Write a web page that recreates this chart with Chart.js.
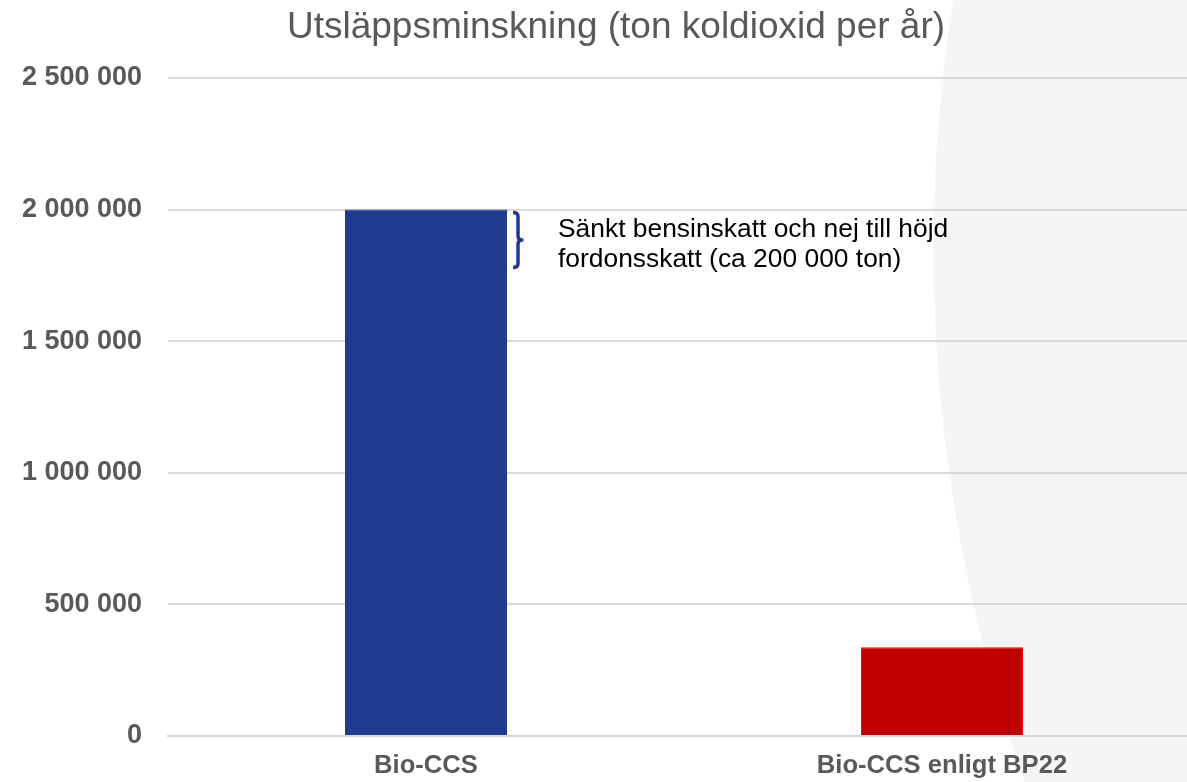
<!DOCTYPE html>
<html>
<head>
<meta charset="utf-8">
<script src="https://cdn.jsdelivr.net/npm/chart.js@4"></script>
<style>
    html, body { margin: 0; padding: 0; overflow: hidden; background: #ffffff; }
    #wrap {
        width: 1200px; height: 782px; position: relative;
        /* light grey disc in the slide background, right side */
        background: radial-gradient(circle 1598px at 2531px 250px, #f5f5f5 1597px, #ffffff 1598px);
    }
</style>
</head>
<body>
<div id="wrap"><canvas id="myChart"></canvas></div>
<script>
//================================data========================================
const categories = ['Bio-CCS', 'Bio-CCS enligt BP22'];
const reduction = [2000000, 337000];
const barColors = ['#203A8F', '#C00000'];
const barBorders = ['#203A8F', '#FF0000'];
const yTicks = [0, 500000, 1000000, 1500000, 2000000, 2500000];
const titleText = 'Utsläppsminskning (ton koldioxid per år)';
const noteLines = ['Sänkt bensinskatt och nej till höjd', 'fordonsskatt (ca 200 000 ton)'];
const noteFrom = 2000000;   // bracket spans this...
const noteTo = 1780000;     // ...down to this

const font = "'Liberation Sans', Arial, sans-serif";
const grey = '#595959';

function spaced(v) {
    return String(v).replace(/\B(?=(\d{3})+(?!\d))/g, ' ');
}

//================================chart========================================
var chart;

// title drawn by hand so it can sit a bit right of centre like the original
const titlePlugin = {
    id: 'slideTitle',
    afterDraw(c) {
        const ctx = c.ctx;
        ctx.save();
        ctx.fillStyle = grey;
        ctx.font = '37px ' + font;
        ctx.textAlign = 'center';
        ctx.textBaseline = 'alphabetic';
        ctx.fillText(titleText, 616, 38);
        ctx.restore();
    }
};

// bracket + text next to the first bar
const notePlugin = {
    id: 'note',
    afterDatasetsDraw(c) {
        const ctx = c.ctx;
        const y = c.scales.y;
        const bar = c.getDatasetMeta(0).data[0];
        let x0 = bar.x + bar.width / 2 + 6;
        let top = y.getPixelForValue(noteFrom) + 3;
        let bot = y.getPixelForValue(noteTo);
        let mid = (top + bot) / 2;
        let xv = x0 + 5;

        ctx.save();
        ctx.strokeStyle = '#203A8F';
        ctx.lineWidth = 3.5;
        ctx.lineJoin = 'round';
        ctx.beginPath();
        ctx.moveTo(x0, top);
        ctx.quadraticCurveTo(xv, top, xv, top + 4);
        ctx.lineTo(xv, mid - 4);
        ctx.quadraticCurveTo(xv, mid, xv + 4, mid);
        ctx.quadraticCurveTo(xv, mid, xv, mid + 4);
        ctx.lineTo(xv, bot - 4);
        ctx.quadraticCurveTo(xv, bot, x0, bot);
        ctx.stroke();

        ctx.fillStyle = '#000000';
        ctx.font = '26.4px ' + font;
        ctx.textBaseline = 'alphabetic';
        ctx.textAlign = 'left';
        let tx = bar.x + bar.width / 2 + 51;
        let ty = y.getPixelForValue(noteFrom) + 27;
        for (let i = 0; i < noteLines.length; i++) {
            ctx.fillText(noteLines[i], tx, ty + i * 30);
        }
        ctx.restore();
    }
};

function showchart() {
    const ctx = document.getElementById('myChart');

    chart = new Chart(ctx, {
        type: 'bar',
        data: {
            labels: categories,
            datasets: [{
                data: reduction,
                backgroundColor: barColors,
                borderColor: barBorders,
                borderWidth: 1,
                barPercentage: 0.314,
                categoryPercentage: 1
            }]
        },
        options: {
            responsive: true,
            maintainAspectRatio: false,
            animation: false,
            layout: { padding: { left: 0, right: 0, top: 78, bottom: 0 } },
            plugins: {
                legend: { display: false },
                tooltip: { enabled: false },
                title: { display: false }
            },
            scales: {
                x: {
                    afterFit: (s) => { s.height = 46; },
                    grid: { display: false, drawTicks: false },
                    border: { display: true, color: '#d9d9d9', width: 2 },
                    ticks: {
                        color: grey,
                        padding: 14.6,
                        font: { family: font, size: 25.6, weight: 'bold' }
                    }
                },
                y: {
                    min: 0,
                    max: 2500000,
                    afterBuildTicks: (s) => { s.ticks = yTicks.map(v => ({ value: v })); },
                    afterFit: (s) => { s.width = 168; },
                    grid: { color: '#d9d9d9', lineWidth: 2, drawTicks: false },
                    border: { display: false },
                    ticks: {
                        color: grey,
                        padding: 26,
                        font: { family: font, size: 27, weight: 'bold', lineHeight: 0.01 },
                        callback: (v) => spaced(v)
                    }
                }
            }
        },
        plugins: [notePlugin, titlePlugin]
    });
}

showchart();
</script>
</body>
</html>
